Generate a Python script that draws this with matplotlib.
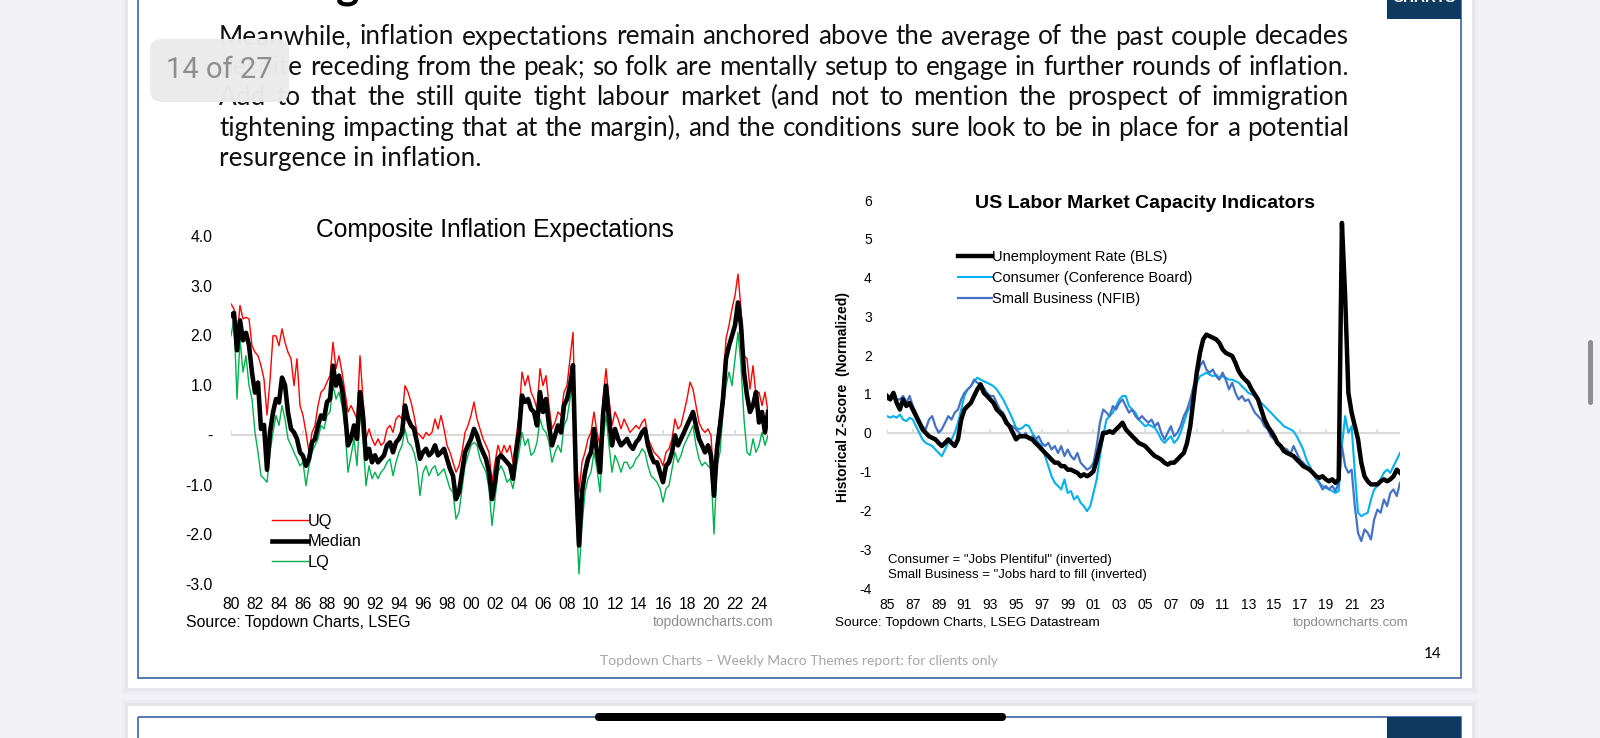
import numpy as np
import matplotlib.pyplot as plt
from matplotlib.patches import Rectangle, FancyBboxPatch

plt.rcParams['font.family'] = ['Liberation Sans', 'DejaVu Sans']

W, H = 1600, 738

# Composite inflation expectations, quarterly from 1980Q1
infl_start = 1980
infl_uq = [
    2.63, 2.53, 1.93, 2.60, 2.33, 2.36, 2.33, 1.79, 1.66, 1.59, 1.39, 1.12,
    0.40, 1.10, 1.99, 1.99, 1.79, 2.13, 1.86, 1.66, 1.53, 0.99, 1.53, 0.59,
    0.39, 0.05, -0.35, 0.05, 0.19, 0.59, 0.86, 0.92, 1.06, 1.19, 1.86, 1.33,
    1.59, 1.26, 0.86, 0.46, 0.59, 0.46, 0.32, 1.59, 0.72, -0.08, 0.12, -0.08,
    -0.21, -0.08, -0.21, -0.15, 0.12, 0.19, 0.05, 0.32, 0.39, 0.32, 0.99, 0.86,
    0.66, 0.39, 0.05, -0.01, -0.08, 0.05, -0.01, 0.05, 0.32, 0.12, 0.39, 0.12,
    -0.21, -0.35, -0.55, -0.75, -0.62, -0.35, 0.05, 0.19, 0.39, 0.66, 0.32, 0.12,
    -0.08, -0.21, -0.35, -0.95, -0.55, -0.21, -0.41, -0.21, -0.35, -0.21, -0.55, -0.08,
    0.39, 1.26, 0.99, 1.19, 0.86, 0.72, 0.52, 1.33, 0.99, 1.19, 0.59, 0.12,
    0.25, 0.46, 0.39, 0.86, 0.99, 1.53, 2.06, -0.40, -1.15, -0.55, -0.35, -0.08,
    0.05, 0.46, 0.05, -0.21, 0.72, 1.33, 0.72, 0.19, 0.46, 0.32, 0.12, 0.32,
    0.19, 0.05, 0.12, 0.19, 0.12, 0.25, 0.32, -0.08, -0.21, -0.35, -0.41, -0.48,
    -0.62, -0.35, -0.28, -0.08, 0.32, 0.12, 0.19, 0.46, 0.72, 1.06, 0.92, 0.59,
    0.25, 0.12, 0.05, 0.12, -0.01, -1.02, -0.08, 0.39, 0.99, 1.93, 2.20, 2.53,
    2.80, 3.23, 2.53, 1.59, 1.53, 0.92, 1.39, 0.79, 0.86, 0.59, 0.86, 0.46,
]
infl_median = [
    2.40, 2.45, 1.70, 2.30, 1.90, 2.05, 1.80, 1.25, 0.85, 1.05, 0.12, 0.20,
    -0.70, 0.05, 0.45, 0.72, 0.65, 1.15, 1.00, 0.45, 0.12, 0.05, -0.08, -0.35,
    -0.42, -0.62, -0.48, -0.15, -0.08, 0.19, 0.39, 0.32, 0.66, 0.72, 1.39, 0.99,
    1.19, 0.92, 0.46, -0.21, -0.08, 0.19, -0.08, 0.86, 0.39, -0.48, -0.28, -0.55,
    -0.41, -0.55, -0.48, -0.41, -0.21, -0.15, -0.35, -0.15, -0.08, 0.05, 0.59, 0.32,
    0.19, 0.12, -0.15, -0.48, -0.35, -0.28, -0.41, -0.35, -0.21, -0.41, -0.35, -0.28,
    -0.48, -0.68, -0.82, -1.29, -1.15, -0.75, -0.35, -0.21, -0.08, 0.12, -0.01, -0.21,
    -0.35, -0.48, -0.75, -1.29, -0.95, -0.48, -0.41, -0.48, -0.55, -0.62, -0.88, -0.35,
    0.05, 0.79, 0.66, 0.72, 0.52, 0.46, 0.19, 0.86, 0.46, 0.72, 0.19, -0.21,
    -0.01, 0.19, 0.05, 0.59, 0.72, 0.99, 1.40, -0.90, -2.22, -1.15, -0.75, -0.48,
    -0.35, 0.12, -0.35, -0.75, 0.39, 0.99, 0.32, -0.21, 0.12, -0.08, -0.21, -0.15,
    -0.08, -0.21, -0.28, -0.15, -0.08, 0.05, 0.12, -0.21, -0.41, -0.55, -0.55, -0.75,
    -0.95, -0.62, -0.55, -0.35, -0.01, -0.21, -0.08, 0.05, 0.19, 0.32, 0.46, 0.19,
    -0.08, -0.21, -0.35, -0.21, -0.41, -1.22, -0.28, 0.19, 0.72, 1.53, 1.79, 1.99,
    2.20, 2.66, 2.20, 1.26, 0.79, 0.46, 0.59, 0.86, 0.25, 0.46, 0.05, 0.46,
]
infl_lq = [
    1.99, 2.33, 0.72, 1.93, 1.26, 1.59, 0.99, 0.72, 0.05, -0.35, -0.82, -0.88,
    -0.95, -0.35, 0.05, 0.39, 0.19, 0.59, 0.32, -0.08, -0.21, -0.35, -0.48, -0.62,
    -0.55, -1.02, -0.62, -0.35, -0.21, -0.08, 0.19, 0.12, 0.39, 0.46, 0.99, 0.72,
    0.86, 0.59, 0.12, -0.75, -0.41, -0.08, -0.62, 0.46, -0.08, -1.02, -0.62, -0.88,
    -0.75, -0.88, -0.75, -0.68, -0.55, -0.48, -0.82, -0.55, -0.35, -0.21, 0.12, -0.15,
    -0.21, -0.35, -0.62, -1.22, -0.75, -0.62, -0.82, -0.68, -0.62, -0.82, -0.75, -0.68,
    -0.88, -1.08, -1.15, -1.69, -1.55, -1.08, -0.62, -0.41, -0.21, -0.15, -0.21, -0.48,
    -0.62, -0.75, -1.08, -1.82, -1.29, -0.75, -0.62, -0.75, -0.95, -0.88, -1.08, -0.68,
    -0.35, 0.05, -0.21, -0.08, -0.41, -0.35, -0.15, 0.32, 0.12, 0.05, -0.15, -0.55,
    -0.35, -0.21, -0.35, 0.19, 0.32, 0.72, 0.99, -1.50, -2.79, -1.82, -1.15, -0.88,
    -0.75, -0.35, -0.68, -1.15, -0.08, 0.39, -0.21, -0.75, -0.41, -0.55, -0.75, -0.55,
    -0.55, -0.68, -0.62, -0.48, -0.41, -0.28, -0.35, -0.62, -0.82, -0.88, -0.95, -1.08,
    -1.35, -1.08, -1.02, -0.68, -0.35, -0.55, -0.41, -0.21, -0.08, 0.05, 0.19, -0.21,
    -0.48, -0.62, -0.55, -0.62, -0.68, -1.99, -0.62, -0.35, 0.46, 0.99, 1.26, 0.99,
    1.53, 2.06, 1.39, 0.32, -0.35, -0.41, -0.08, -0.35, -0.21, 0.05, -0.21, -0.01,
]
infl_xticks = list(range(1980, 2025, 2))
infl_xlabels = ['%02d' % (y % 100) for y in infl_xticks]
infl_yticks = [4, 3, 2, 1, 0, -1, -2, -3]
infl_ylabels = ['4.0', '3.0', '2.0', '1.0', '-', '-1.0', '-2.0', '-3.0']

# US labour market capacity z-scores, quarterly from 1985Q1
labor_start = 1985
labor_unemp = [
    0.95, 0.86, 1.03, 0.77, 0.60, 0.86, 0.69, 0.77, 0.60, 0.43, 0.26, 0.09,
    0.00, -0.09, -0.13, -0.17, -0.26, -0.34, -0.26, -0.17, -0.26, -0.34, -0.17, 0.34,
    0.60, 0.69, 0.77, 0.95, 1.12, 1.25, 1.03, 0.95, 0.86, 0.77, 0.60, 0.52,
    0.43, 0.26, 0.17, 0.00, -0.17, -0.09, -0.09, -0.09, -0.13, -0.17, -0.26, -0.34,
    -0.43, -0.52, -0.60, -0.69, -0.77, -0.77, -0.86, -0.86, -0.95, -0.95, -0.99, -1.03,
    -1.12, -1.07, -1.12, -1.07, -0.99, -0.69, -0.34, 0.00, 0.00, 0.04, 0.00, 0.09,
    0.17, 0.26, 0.09, 0.00, -0.09, -0.17, -0.26, -0.30, -0.34, -0.43, -0.52, -0.60,
    -0.64, -0.69, -0.77, -0.82, -0.77, -0.77, -0.69, -0.60, -0.52, -0.26, 0.17, 0.86,
    1.55, 2.06, 2.41, 2.53, 2.49, 2.45, 2.41, 2.32, 2.15, 2.06, 2.02, 1.98,
    1.80, 1.59, 1.46, 1.37, 1.29, 1.12, 0.99, 0.86, 0.60, 0.34, 0.17, 0.04,
    -0.09, -0.26, -0.34, -0.47, -0.52, -0.56, -0.60, -0.69, -0.77, -0.86, -0.90, -0.95,
    -1.03, -1.12, -1.16, -1.12, -1.20, -1.25, -1.20, -1.29, -1.20, 5.41, 3.53, 1.03,
    0.52, 0.17, -0.17, -0.77, -1.12, -1.25, -1.33, -1.33, -1.33, -1.25, -1.20, -1.25,
    -1.20, -1.12, -0.95, -1.03,
]
labor_consumer = [
    0.43, 0.39, 0.43, 0.39, 0.47, 0.34, 0.30, 0.39, 0.34, 0.17, 0.00, -0.17,
    -0.26, -0.30, -0.34, -0.43, -0.52, -0.60, -0.43, -0.26, -0.17, 0.00, 0.26, 0.60,
    0.95, 1.12, 1.20, 1.33, 1.42, 1.37, 1.33, 1.29, 1.25, 1.20, 1.12, 0.99,
    0.86, 0.69, 0.52, 0.34, 0.13, 0.09, 0.13, 0.21, 0.17, 0.00, -0.13, -0.26,
    -0.34, -0.60, -0.86, -1.12, -1.29, -1.37, -1.46, -1.20, -1.55, -1.50, -1.72, -1.63,
    -1.80, -1.89, -2.02, -1.89, -1.55, -1.20, -0.60, -0.09, 0.34, 0.43, 0.52, 0.69,
    0.86, 0.95, 0.95, 0.69, 0.60, 0.52, 0.34, 0.26, 0.17, 0.21, 0.17, 0.13,
    0.00, -0.17, -0.26, -0.17, -0.09, -0.26, -0.17, 0.00, 0.26, 0.52, 0.69, 1.03,
    1.29, 1.46, 1.50, 1.55, 1.50, 1.46, 1.50, 1.42, 1.46, 1.42, 1.37, 1.37,
    1.33, 1.29, 1.20, 1.12, 1.03, 0.99, 0.95, 0.86, 0.77, 0.69, 0.60, 0.52,
    0.43, 0.34, 0.26, 0.17, 0.13, 0.09, 0.04, -0.09, -0.26, -0.43, -0.69, -0.86,
    -1.03, -1.20, -1.29, -1.37, -1.42, -1.46, -1.50, -1.55, -1.50, -0.34, 0.43, 0.00,
    0.17, -1.03, -2.06, -2.15, -2.10, -2.06, -1.72, -1.46, -1.37, -1.20, -1.03, -0.95,
    -1.03, -0.86, -0.69, -0.52,
]
labor_smallbiz = [
    0.86, 0.95, 1.03, 0.86, 0.86, 0.95, 0.77, 0.95, 0.69, 0.52, 0.34, 0.17,
    0.09, 0.34, 0.43, 0.17, 0.00, 0.09, 0.26, 0.43, 0.34, 0.52, 0.60, 0.86,
    1.03, 1.12, 1.20, 1.37, 1.29, 1.25, 1.16, 1.03, 0.95, 0.95, 0.77, 0.60,
    0.52, 0.34, 0.17, 0.17, 0.09, 0.00, -0.09, 0.00, -0.17, -0.09, -0.17, -0.09,
    -0.26, -0.34, -0.26, -0.43, -0.34, -0.52, -0.34, -0.60, -0.43, -0.60, -0.69, -0.52,
    -0.77, -0.86, -0.95, -0.90, -0.77, -0.34, 0.26, 0.60, 0.52, 0.43, 0.69, 0.60,
    0.77, 0.86, 0.69, 0.52, 0.60, 0.43, 0.34, 0.43, 0.34, 0.26, 0.34, 0.17,
    0.26, 0.00, -0.17, 0.00, 0.17, -0.09, 0.00, 0.17, 0.43, 0.60, 0.86, 1.20,
    1.46, 1.72, 1.85, 1.63, 1.55, 1.63, 1.46, 1.37, 1.55, 1.37, 1.12, 1.29,
    1.03, 0.86, 0.95, 0.82, 0.86, 0.69, 0.52, 0.43, 0.34, 0.17, 0.09, -0.09,
    -0.17, -0.26, -0.34, -0.39, -0.43, -0.56, -0.34, -0.52, -0.69, -0.77, -0.86, -0.95,
    -1.03, -1.12, -1.29, -1.46, -1.37, -1.46, -1.37, -1.50, -1.29, -0.34, -0.86, -1.03,
    -0.95, -1.89, -2.58, -2.79, -2.49, -2.58, -2.75, -2.23, -1.98, -2.06, -1.72, -1.89,
    -1.55, -1.46, -1.63, -1.29,
]
labor_xticks = list(range(1985, 2024, 2))
labor_xlabels = ['%02d' % (y % 100) for y in labor_xticks]
labor_yticks = list(range(6, -5, -1))

body = [
    "Meanwhile, inflation expectations remain anchored above the average of the past couple decades",
    "despite receding from the peak; so folk are mentally setup to engage in further rounds of inflation.",
    "Add to that the still quite tight labour market (and not to mention the prospect of immigration",
    "tightening impacting that at the margin), and the conditions sure look to be in place for a potential",
    "resurgence in inflation.",
]

fig = plt.figure(figsize=(16, 7.38), dpi=100)
fig.patch.set_facecolor('#f2f1f6')

# background axes in pixel coordinates for the slide furniture
bg = fig.add_axes([0, 0, 1, 1])
bg.set_xlim(0, W)
bg.set_ylim(H, 0)
bg.axis('off')

# slide cards with a soft shadow
for dx, a in [(6, 0.05), (3, 0.08)]:
    bg.add_patch(Rectangle((128 - dx, -20), 1344 + 2 * dx, 708 + dx, fc='#9a9aa8', alpha=a, lw=0))
    bg.add_patch(Rectangle((128 - dx, 706 - dx), 1344 + 2 * dx, 60, fc='#9a9aa8', alpha=a, lw=0))
bg.add_patch(Rectangle((128, -20), 1344, 708, fc='white', lw=0))
bg.add_patch(Rectangle((128, 706), 1344, 60, fc='white', lw=0))
bg.add_patch(Rectangle((138, -10), 1323, 688, fill=False, ec='#4a6ea8', lw=1.3))
bg.add_patch(Rectangle((138, 717), 1323, 60, fill=False, ec='#4a6ea8', lw=1.3))
bg.add_patch(Rectangle((1387, -5), 74, 24, fc='#0e3a5f', lw=0))
bg.add_patch(Rectangle((1387, 717), 74, 30, fc='#0e3a5f', lw=0))
bg.text(1424, 2, 'CHARTS', color='white', fontsize=11, weight='bold', ha='center', va='baseline')
bg.text(348, -1, 'g', color='black', fontsize=32, weight='bold', ha='center', va='baseline',
        family=['Lato', 'DejaVu Sans'])

# body paragraph, justified like the slide
renderer = fig.canvas.get_renderer()
body_font = ['Lato', 'DejaVu Sans']
probe = bg.text(0, 0, body[0], fontsize=18, family=body_font)
w18 = probe.get_window_extent(renderer).width
probe.remove()
body_fs = 18 * 1115 / w18
x0, x1 = 219, 1349
for i, line in enumerate(body):
    yb = 44.5 + i * 30.35
    if i == len(body) - 1:
        bg.text(x0, yb, line, fontsize=body_fs, family=body_font, va='baseline', color='#111111')
        continue
    words = line.split(' ')
    items = [bg.text(0, yb, w, fontsize=body_fs, family=body_font, va='baseline', color='#111111')
             for w in words]
    widths = [t.get_window_extent(renderer).width for t in items]
    gap = (x1 - x0 - sum(widths)) / (len(words) - 1)
    x = x0
    for t, w in zip(items, widths):
        t.set_x(x)
        x += w + gap

# page badge
bg.add_patch(FancyBboxPatch((150, 39), 139, 63, boxstyle='round,pad=0,rounding_size=12',
                            fc='#ebebeb', ec='none', alpha=0.98, zorder=5))
bg.text(219.5, 70, '14 of 27', fontsize=21, color='#8e8e8e', ha='center', va='center',
        family=['Roboto', 'DejaVu Sans'], zorder=6)

# scroll bar and home indicator
bg.add_patch(FancyBboxPatch((1588, 340), 5, 65, boxstyle='round,pad=0,rounding_size=2.5',
                            fc='#8e8e93', ec='none'))
bg.add_patch(FancyBboxPatch((595, 713), 411, 8, boxstyle='round,pad=0,rounding_size=4',
                            fc='black', ec='none', zorder=5))

# footer
bg.text(799, 661, 'Topdown Charts \u2013 Weekly Macro Themes report: for clients only',
        fontsize=10, color='#a6a6a6', ha='center', va='center', family=body_font)
bg.text(1433, 654, '14', fontsize=11, color='black', ha='center', va='center', family=body_font)

# ---- left chart: composite inflation expectations
ax1 = fig.add_axes([231 / W, 1 - 584.3 / H, 537 / W, (584.3 - 235.7) / H])
ax1.patch.set_alpha(0)
x_infl = infl_start + np.arange(len(infl_median)) * 0.25
ax1.axhline(0, color='#d9d9d9', lw=1.5, zorder=0)
ax1.vlines(range(1980, 2025, 6), 0, 0.1, color='#d9d9d9', lw=1.2, zorder=0)
h_uq, = ax1.plot(x_infl, infl_uq, color='#ff0000', lw=1.0, label='UQ')
h_lq, = ax1.plot(x_infl, infl_lq, color='#00b050', lw=1.0, label='LQ')
h_md, = ax1.plot(x_infl, infl_median, color='black', lw=3.3, label='Median')
ax1.set_xlim(1980, 2024.75)
ax1.set_ylim(-3, 4)
ax1.set_xticks(infl_xticks)
ax1.set_xticklabels(infl_xlabels)
ax1.set_yticks(infl_yticks)
ax1.set_yticklabels(infl_ylabels)
ax1.tick_params(axis='x', length=0, labelsize=11.3, pad=9)
ax1.tick_params(axis='y', length=0, labelsize=11.3, pad=13.5)
for s in ax1.spines.values():
    s.set_visible(False)
ax1.legend([h_uq, h_md, h_lq], ['UQ', 'Median', 'LQ'], loc='upper left',
           bbox_to_anchor=(272 / W, 1 - 514 / H), bbox_transform=fig.transFigure,
           frameon=False, fontsize=11.8, handlelength=2.2, handletextpad=0.0,
           labelspacing=0.33, borderpad=0, borderaxespad=0)
bg.text(495, 230, 'Composite Inflation Expectations', fontsize=17.7, ha='center', va='center')
bg.text(186, 622, 'Source: Topdown Charts, LSEG', fontsize=11.4, va='center')
bg.text(773, 622, 'topdowncharts.com', fontsize=10, color='#8c8c8c', ha='right', va='center')

# ---- right chart: US labor market capacity indicators
ax2 = fig.add_axes([887 / W, 1 - 588 / H, 513 / W, 388 / H])
ax2.patch.set_alpha(0)
x_lab = labor_start + np.arange(len(labor_unemp)) * 0.25
ax2.axhline(0, color='#d9d9d9', lw=1.5, zorder=0)
ax2.vlines(range(1985, 2025, 2), 0, 0.1, color='#d9d9d9', lw=1.2, zorder=0)
h_cb, = ax2.plot(x_lab, labor_consumer, color='#00b0f0', lw=1.5)
h_nf, = ax2.plot(x_lab, labor_smallbiz, color='#4472c4', lw=1.6)
h_ur, = ax2.plot(x_lab, labor_unemp, color='black', lw=3.2)
ax2.set_xlim(1985, 2024.75)
ax2.set_ylim(-4, 6)
ax2.set_xticks(labor_xticks)
ax2.set_xticklabels(labor_xlabels)
ax2.set_yticks(labor_yticks)
ax2.set_yticklabels([str(v) for v in labor_yticks])
ax2.tick_params(axis='x', length=0, labelsize=10, pad=7.5)
ax2.tick_params(axis='y', length=0, labelsize=10, pad=11)
for s in ax2.spines.values():
    s.set_visible(False)
ax2.legend([h_ur, h_cb, h_nf],
           ['Unemployment Rate (BLS)', 'Consumer (Conference Board)', 'Small Business (NFIB)'],
           loc='upper left', bbox_to_anchor=(958 / W, 1 - 250 / H), bbox_transform=fig.transFigure,
           frameon=False, fontsize=10.5, handlelength=2.3, handletextpad=0.0,
           labelspacing=0.47, borderpad=0, borderaxespad=0)
bg.text(1145, 203, 'US Labor Market Capacity Indicators', fontsize=14, weight='bold',
        ha='center', va='center')
bg.text(843, 397, 'Historical Z-Score  (Normalized)', fontsize=10, weight='bold',
        rotation=90, ha='center', va='center')
bg.text(888, 560, 'Consumer = "Jobs Plentiful" (inverted)', fontsize=9.5, va='center')
bg.text(888, 575, 'Small Business = "Jobs hard to fill (inverted)', fontsize=9.5, va='center')
bg.text(835, 623, 'Source: Topdown Charts, LSEG Datastream', fontsize=9.7, va='center')
bg.text(1408, 623, 'topdowncharts.com', fontsize=9.6, color='#8c8c8c', ha='right', va='center')

fig.savefig('out.png', dpi=100, facecolor=fig.get_facecolor())
